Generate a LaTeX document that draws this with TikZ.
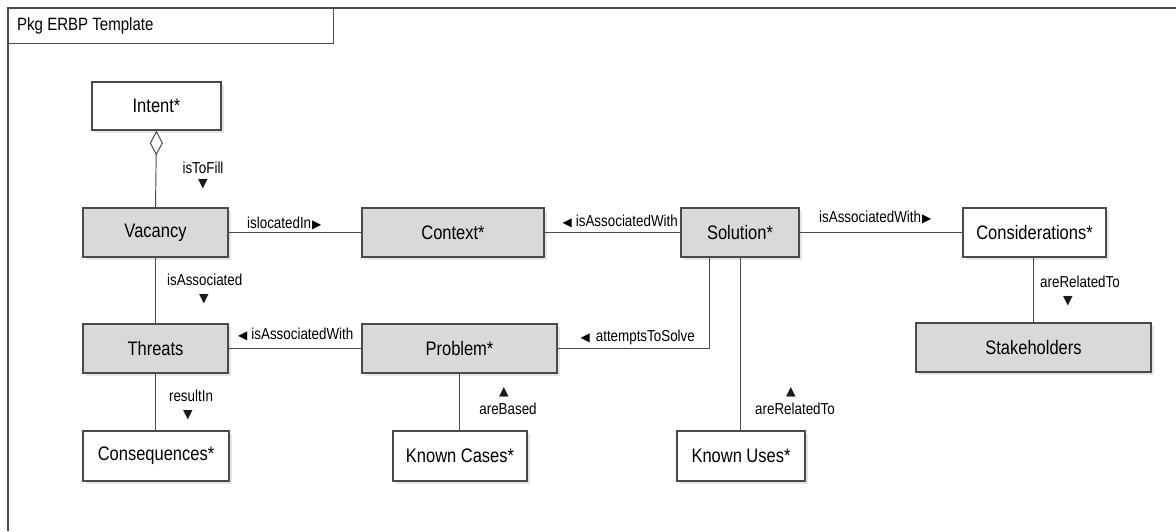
\documentclass[tikz,border=0pt]{standalone}
\usepackage{fontspec}
\usepackage{graphicx}
\setmainfont{Liberation Sans}
\newfontfamily\symf{DejaVu Sans}
\usetikzlibrary{arrows.meta,shadows}
\definecolor{boxgray}{HTML}{D9D9D9}
\definecolor{edgec}{HTML}{4A4A4A}
\newcommand\tx[1]{\scalebox{0.97}[1.15]{#1}}
\newcommand\rtri{{\symf\fontsize{12}{12}\selectfont ▶}}
\newcommand\ltri{{\symf\fontsize{12}{12}\selectfont ◀}}
\tikzset{
  cls/.style={draw=edgec, line width=1.1pt, minimum height=49pt, inner sep=0pt,
    font=\fontsize{17}{18}\selectfont, text=black,
    drop shadow={shadow xshift=2.5pt, shadow yshift=-2.5pt, fill=black, opacity=0.10}},
  gcls/.style={cls, fill=boxgray},
  wcls/.style={cls, fill=white},
  conn/.style={draw=edgec, line width=0.95pt},
  lbl/.style={font=\fontsize{13.8}{15}\selectfont, inner sep=0pt, text=black},
  tri/.style={font=\symf\fontsize{12.5}{13}\selectfont, inner sep=0pt, text=black!90}
}
\begin{document}
\begin{tikzpicture}[x=1pt,y=-1pt]
\useasboundingbox (0,0) rectangle (1176,531);
% package frame
\draw[draw=edgec, line width=1.2pt] (8,531) -- (8,8) -- (1176,8);
\node[draw=edgec, line width=1.1pt, fill=white, anchor=north west, minimum width=325pt, minimum height=34.5pt, inner sep=0pt] (tab) at (8,8) {};
\node[lbl, font=\fontsize{15.5}{17}\selectfont, anchor=west] (title) at (17,25.5) {\tx{Pkg ERBP Template}};
% classes
\node[wcls, minimum width=129pt, minimum height=48pt] (intent) at (156.5,106) {\tx{Intent*}};
\node[gcls, minimum width=145pt] (vacancy) at (155.5,232.5) {\tx{Vacancy}};
\node[gcls, minimum width=182pt] (context) at (453,232.5) {\tx{Context*}};
\node[gcls, minimum width=118pt] (solution) at (740,232.5) {\tx{Solution*}};
\node[wcls, minimum width=143pt] (consid) at (1034.5,232.5) {\tx{Considerations*}};
\node[gcls, minimum width=235pt] (stake) at (1033.5,347.5) {\tx{Stakeholders}};
\node[gcls, minimum width=145pt] (threats) at (155.5,348.5) {\tx{Threats}};
\node[gcls, minimum width=195pt] (problem) at (459.5,348.5) {\tx{Problem*}};
\node[wcls, minimum width=146pt, minimum height=50pt] (conseq) at (156,456) {\tx{Consequences*}};
\node[wcls, minimum width=134pt, minimum height=50pt] (kcases) at (460,456) {\tx{Known Cases*}};
\node[wcls, minimum width=128pt, minimum height=50pt] (kuses) at (741,456) {\tx{Known Uses*}};
% connectors
\draw[conn, {Diamond[open, length=25pt, width=13pt, line width=1pt]}-] (intent.south) -- (vacancy.north);
\draw[conn] (vacancy.east) -- (context.west);
\draw[conn] (context.east) -- (solution.west);
\draw[conn] (solution.east) -- (consid.west);
\draw[conn] (vacancy.south) -- (threats.north);
\draw[conn] (threats.east) -- (problem.west);
\draw[conn] ([xshift=-31pt]solution.south) |- (problem.east);
\draw[conn] (solution.south) -- (solution.south |- kuses.north);
\draw[conn] ([xshift=-1.5pt]consid.south) -- ([xshift=-1.5pt]consid.south |- stake.north);
\draw[conn] (threats.south) -- (threats.south |- conseq.north);
\draw[conn] (problem.south) -- (problem.south |- kcases.north);
% labels
\node[lbl] (l1) at (203,168) {\tx{isToFill}};
\node[tri] (t1) at (203,184) {▼};
\node[lbl, anchor=west] (l2) at (247,223) {\tx{islocatedIn}\kern1pt\rtri};
\node[lbl, anchor=west] (l3) at (167,280) {\tx{isAssociated}};
\node[tri] (t3) at (204,299) {▼};
\node[lbl, anchor=west] (l4) at (238,334) {\ltri\kern4pt\tx{isAssociatedWith}};
\node[lbl, anchor=east] (l5) at (678,221) {\ltri\kern4pt\tx{isAssociatedWith}};
\node[lbl, anchor=west] (l6) at (819,217) {\tx{isAssociatedWith}\kern1pt\rtri};
\node[lbl, anchor=west] (l7) at (1040,282) {\tx{areRelatedTo}};
\node[tri] (t7) at (1068,301) {▼};
\node[lbl, anchor=east] (l8) at (695,337) {\ltri\kern6pt\tx{attemptsToSolve}};
\node[lbl] (l9) at (191,396) {\tx{resultIn}};
\node[tri] (t9) at (188,415) {▼};
\node[tri] (t10) at (504,392) {▲};
\node[lbl] (l10) at (508,409) {\tx{areBased}};
\node[tri] (t11) at (791,392) {▲};
\node[lbl, anchor=west] (l11) at (755,409) {\tx{areRelatedTo}};
\end{tikzpicture}
\end{document}
